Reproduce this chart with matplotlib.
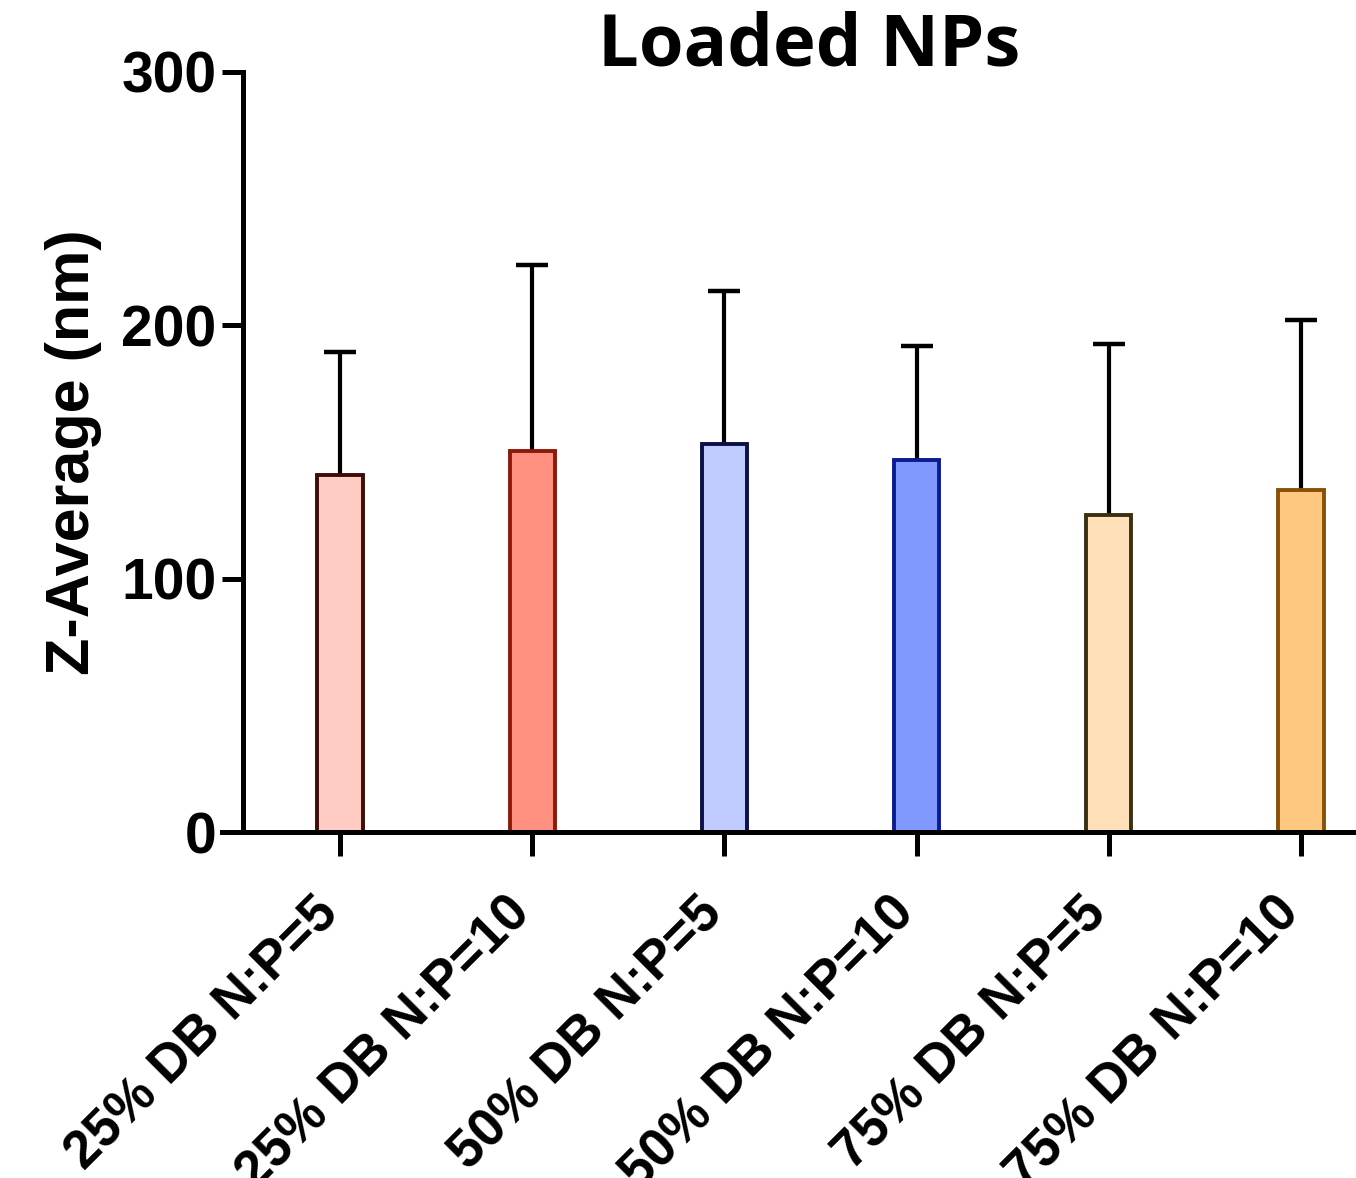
import matplotlib
matplotlib.use("Agg")
import matplotlib.pyplot as plt
import numpy as np

categories = ["25% DB N:P=5", "25% DB N:P=10", "50% DB N:P=5",
              "50% DB N:P=10", "75% DB N:P=5", "75% DB N:P=10"]
means = [141, 150.5, 153, 147, 125, 135]
sd = [48.5, 73.5, 60.5, 45, 67.5, 67]
fill_colors = ["#FFCCC4", "#FF9080", "#C0CCFF", "#8098FF", "#FFE0B8", "#FFC880"]
edge_colors = ["#3D0C08", "#8B1A0A", "#0A1048", "#0A1C90", "#383010", "#8A5008"]
yticks = [0, 100, 200, 300]

fig = plt.figure(figsize=(13.56, 11.78), dpi=100)
ax = fig.add_axes([0.1792, 0.2937, 0.8208, 0.6452])

x = np.arange(len(categories))
ax.bar(x, means, width=0.235, color=fill_colors, edgecolor=edge_colors,
       linewidth=2.8, zorder=2)
eb = ax.errorbar(x, means, yerr=[np.zeros(len(sd)), sd], fmt="none",
                 ecolor="black", elinewidth=3.0, capsize=11.5, capthick=3.2,
                 zorder=1)
for l in eb.lines[1]:
    yd = np.asarray(l.get_ydata(), dtype=float)
    if np.allclose(yd, means):
        l.set_visible(False)
    l.set_solid_capstyle("round")
for lc in eb.lines[2]:
    lc.set_capstyle("round")

ax.set_xlim(-0.505, 5.286)
ax.set_ylim(0, 300)
ax.set_yticks(yticks)
ax.set_yticklabels([str(v) for v in yticks], fontsize=41, fontweight="bold",
                   family="Liberation Sans")
ax.set_xticks(x)
ax.set_xticklabels(categories, rotation=45, ha="right", va="baseline",
                   rotation_mode="anchor",
                   fontsize=38, fontweight="bold", family="Liberation Sans")
for s in ["top", "right"]:
    ax.spines[s].set_visible(False)
for s in ["left", "bottom"]:
    ax.spines[s].set_linewidth(3.6)
ax.spines["bottom"].set_bounds(-0.615, 5.286)
ax.tick_params(axis="y", length=15, width=3.6, pad=4)
ax.tick_params(axis="x", length=17, width=3.6, pad=43)
ax.set_ylabel("Z-Average (nm)", fontsize=44, fontweight="bold",
              family="Liberation Sans", labelpad=14)
fig.text(0.597, 0.9448, "Loaded NPs", fontsize=52, fontweight="bold",
         family="Open Sans", ha="center", va="baseline")

fig.savefig("out.png", dpi=100)
